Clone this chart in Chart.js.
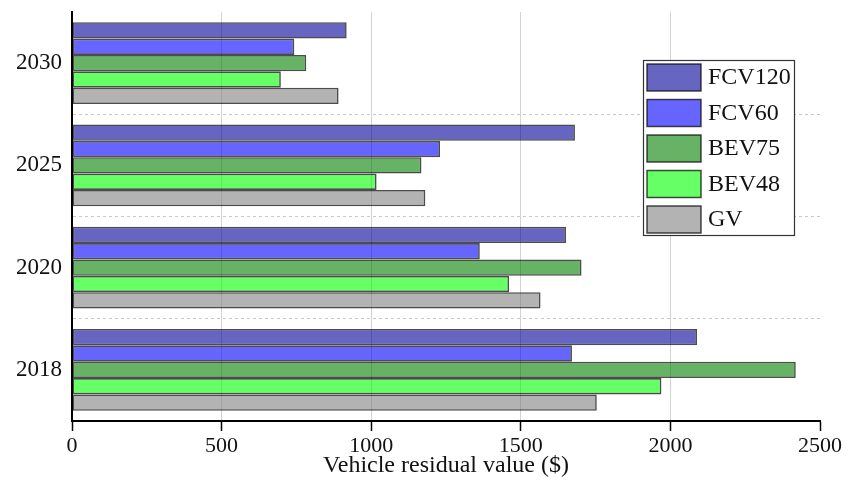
<!DOCTYPE html>
<html>
<head>
<meta charset="utf-8">
<script src="https://cdn.jsdelivr.net/npm/chart.js@4/dist/chart.umd.min.js"></script>
<style>
  html, body { margin: 0; padding: 0; background: #fff; }
  #wrap { width: 858px; height: 480px; }
</style>
</head>
<body>
<div id="wrap"><canvas id="c" width="858" height="480"></canvas></div>
<script>
const categories = ['2030', '2025', '2020', '2018'];
const seriesNames = ['FCV120', 'FCV60', 'BEV75', 'BEV48', 'GV'];
const fcv120 = [918, 1681, 1651, 2089];
const fcv60  = [743, 1230, 1363, 1671];
const bev75  = [783, 1168, 1703, 2419];
const bev48  = [698, 1018, 1461, 1970];
const gv     = [891, 1181, 1566, 1754];
const xTicks = [0, 500, 1000, 1500, 2000, 2500];
const xTitle = 'Vehicle residual value ($)';

const fills = ['rgba(0,0,153,0.6)', 'rgba(0,0,255,0.6)', 'rgba(0,128,0,0.6)', 'rgba(0,255,0,0.6)', 'rgba(128,128,128,0.6)'];
const edge = 'rgba(0,0,0,0.7)';
const serif = "'Liberation Serif', 'Times New Roman', serif";

const seriesValues = [fcv120, fcv60, bev75, bev48, gv];
const datasets = seriesNames.map((name, i) => ({
  label: name,
  data: seriesValues[i],
  backgroundColor: fills[i],
  borderColor: edge,
  borderWidth: 1.6,
  borderSkipped: false,
  categoryPercentage: 0.8,
  barPercentage: 1.0
}));

const legendPlugin = {
  id: 'boxLegend',
  afterDraw(chart) {
    const ctx = chart.ctx;
    const ca = chart.chartArea;
    const left = ca.right - 177, top = ca.top + 48;
    const w = 151, h = 175;
    ctx.save();
    ctx.fillStyle = '#fff';
    ctx.fillRect(left, top, w, h);
    ctx.strokeStyle = '#333';
    ctx.lineWidth = 1.2;
    ctx.strokeRect(left + 0.5, top + 0.5, w, h);
    ctx.font = '24px ' + serif;
    ctx.textBaseline = 'middle';
    ctx.textAlign = 'left';
    chart.data.datasets.forEach((ds, i) => {
      const y = top + 4 + i * 35.5;
      ctx.fillStyle = ds.backgroundColor;
      ctx.fillRect(left + 4, y, 54, 27);
      ctx.strokeStyle = edge;
      ctx.lineWidth = 1.5;
      ctx.strokeRect(left + 4, y, 54, 27);
      ctx.fillStyle = '#111';
      ctx.fillText(ds.label, left + 65, y + 14);
    });
    ctx.restore();
  }
};

new Chart(document.getElementById('c'), {
  type: 'bar',
  data: { labels: categories, datasets },
  plugins: [legendPlugin],
  options: {
    indexAxis: 'y',
    responsive: false,
    animation: false,
    layout: { padding: { left: 0, right: 38, top: 12, bottom: 0 } },
    plugins: { legend: { display: false }, tooltip: { enabled: false } },
    scales: {
      x: {
        min: 0, max: 2500,
        afterBuildTicks(scale) { scale.ticks = xTicks.map(v => ({ value: v })); },
        afterFit(scale) { scale.height = 59; scale.paddingLeft = 0; scale.paddingRight = 0; },
        grid: {
          color: (c) => (c.tick && (c.tick.value === 0 || c.tick.value === 2500)) ? 'rgba(0,0,0,0)' : '#d2d2d2',
          lineWidth: 1,
          drawTicks: true,
          tickLength: 10,
          tickColor: '#000',
          tickWidth: 1.5
        },
        border: { display: true, color: '#000', width: 2 },
        ticks: { color: '#111', font: { family: serif, size: 22 }, padding: 2, maxRotation: 0,
                 callback: (v) => String(v) },
        title: { display: true, text: xTitle, color: '#111', font: { family: serif, size: 24 }, padding: { top: -4, bottom: 0 } }
      },
      y: {
        afterFit(scale) { scale.width = 72; scale.paddingTop = 0; scale.paddingBottom = 0; },
        grid: {
          offset: true,
          drawTicks: false,
          color: (c) => (c.index === 0 || c.index === categories.length) ? 'rgba(0,0,0,0)' : '#c8c8c8',
          lineWidth: 1
        },
        border: { display: true, color: '#000', width: 2, dash: [3, 3] },
        ticks: { color: '#111', font: { family: serif, size: 23 }, padding: 10 }
      }
    }
  }
});
</script>
</body>
</html>
